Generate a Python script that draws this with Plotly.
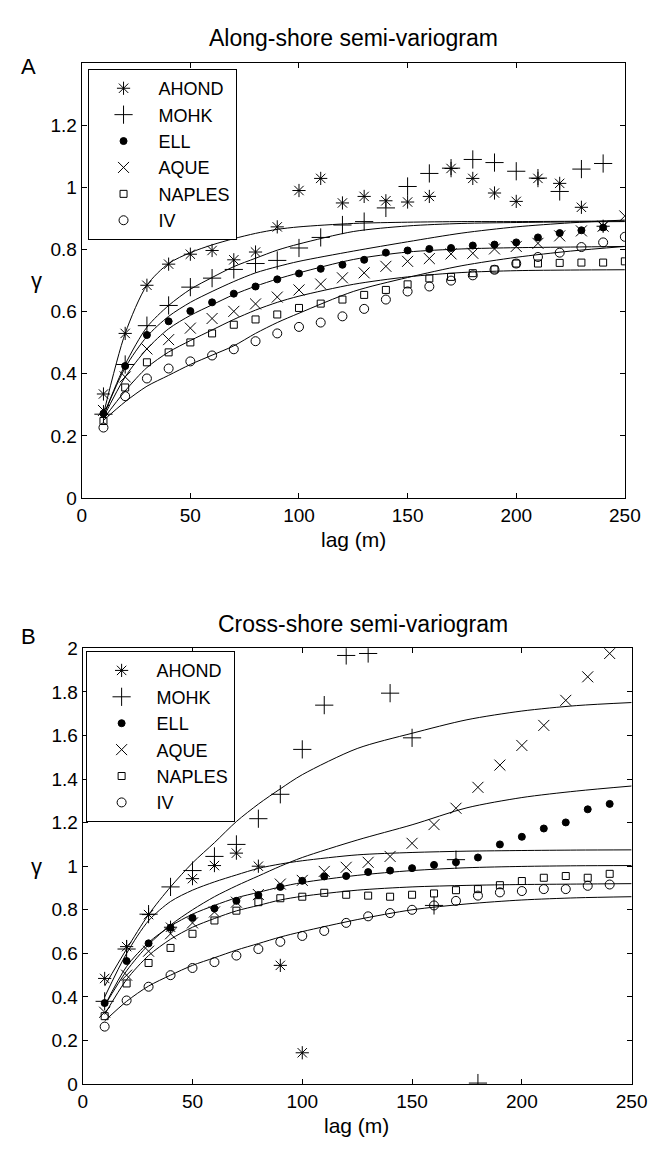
import plotly.graph_objects as go

# ---------------- DATA ----------------
LAGS = [10, 20, 30, 40, 50, 60, 70, 80, 90, 100, 110, 120, 130, 140, 150,
        160, 170, 180, 190, 200, 210, 220, 230, 240, 250]
SERIES = ["AHOND", "MOHK", "ELL", "AQUE", "NAPLES", "IV"]

# Panel A: along-shore experimental semi-variogram
A_AHOND = [0.335, 0.53, 0.685, 0.753, 0.785, 0.797, 0.767, 0.792, 0.873, 0.99, 1.029, 0.95,
           0.971, 0.957, 0.953, 0.971, 1.061, 1.029, 0.982, 0.955, 1.029, 1.013, 0.936, 0.875]
A_MOHK = [0.27, 0.43, 0.555, 0.62, 0.679, 0.708, 0.736, 0.755, 0.765, 0.805, 0.839, 0.879,
          0.89, 0.934, 1.003, 1.045, 1.062, 1.09, 1.08, 1.052, 1.03, 0.987, 1.059, 1.077]
A_ELL = [0.272, 0.425, 0.525, 0.569, 0.602, 0.63, 0.658, 0.681, 0.704, 0.723, 0.738, 0.751,
         0.767, 0.79, 0.797, 0.802, 0.805, 0.813, 0.816, 0.823, 0.839, 0.853, 0.862, 0.871]
A_AQUE = [0.282, 0.39, 0.48, 0.51, 0.547, 0.578, 0.601, 0.625, 0.647, 0.67, 0.689, 0.709,
          0.725, 0.746, 0.762, 0.771, 0.786, 0.788, 0.802, 0.81, 0.82, 0.844, 0.86, 0.875, 0.908]
A_NAPLES = [0.248, 0.356, 0.437, 0.469, 0.501, 0.53, 0.558, 0.575, 0.591, 0.612, 0.626, 0.639,
            0.654, 0.67, 0.688, 0.707, 0.712, 0.724, 0.736, 0.755, 0.755, 0.757, 0.758, 0.758, 0.762]
A_IV = [0.227, 0.328, 0.385, 0.417, 0.44, 0.459, 0.479, 0.505, 0.53, 0.551, 0.565, 0.585,
        0.609, 0.639, 0.665, 0.681, 0.70, 0.717, 0.735, 0.755, 0.776, 0.79, 0.808, 0.823, 0.841]

# Panel B: cross-shore experimental semi-variogram
B_AHOND = [0.485, 0.631, 0.778, 0.72, 0.943, 1.003, 1.06, 1.0, 0.545, 0.144]
B_MOHK = [0.38, 0.62, 0.78, 0.905, 0.98, 1.045, 1.10, 1.218, 1.33, 1.536, 1.739, 1.967,
          1.976, 1.794, 1.589, 0.82, 1.03, 0.005]
B_ELL = [0.372, 0.565, 0.646, 0.718, 0.763, 0.806, 0.841, 0.868, 0.905, 0.933, 0.953, 0.955,
         0.973, 0.98, 0.991, 1.006, 1.018, 1.04, 1.10, 1.135, 1.173, 1.201, 1.261, 1.286]
B_AQUE = [0.33, 0.50, 0.61, 0.69, 0.74, 0.79, 0.835, 0.87, 0.918, 0.935, 0.976, 0.995,
          1.018, 1.045, 1.105, 1.191, 1.266, 1.362, 1.464, 1.554, 1.646, 1.761, 1.869, 1.976]
B_NAPLES = [0.312, 0.462, 0.556, 0.625, 0.69, 0.751, 0.796, 0.835, 0.853, 0.86, 0.878, 0.869,
            0.865, 0.86, 0.869, 0.875, 0.89, 0.895, 0.913, 0.932, 0.947, 0.955, 0.947, 0.965]
B_IV = [0.264, 0.384, 0.447, 0.50, 0.533, 0.56, 0.59, 0.62, 0.653, 0.68, 0.703, 0.74,
        0.77, 0.785, 0.80, 0.82, 0.841, 0.865, 0.88, 0.886, 0.895, 0.895, 0.91, 0.916]

# Fitted model curves (at these lags)
FIT_LAGS = [10, 20, 30, 40, 50, 60, 70, 80, 90, 100, 125, 150, 175, 200, 225, 250]
FIT_A = [
    [0.27, 0.53, 0.685, 0.755, 0.79, 0.815, 0.835, 0.852, 0.865, 0.873, 0.884, 0.888, 0.89, 0.89, 0.891, 0.892],
    [0.265, 0.43, 0.55, 0.62, 0.672, 0.71, 0.745, 0.772, 0.798, 0.818, 0.858, 0.876, 0.884, 0.887, 0.889, 0.89],
    [0.265, 0.42, 0.52, 0.585, 0.63, 0.665, 0.697, 0.725, 0.745, 0.762, 0.795, 0.825, 0.853, 0.873, 0.886, 0.895],
    [0.26, 0.39, 0.48, 0.545, 0.588, 0.622, 0.655, 0.682, 0.705, 0.725, 0.768, 0.792, 0.802, 0.806, 0.808, 0.81],
    [0.255, 0.345, 0.42, 0.47, 0.507, 0.541, 0.575, 0.605, 0.63, 0.65, 0.688, 0.712, 0.726, 0.732, 0.734, 0.735],
    [0.25, 0.31, 0.36, 0.395, 0.43, 0.46, 0.49, 0.53, 0.565, 0.595, 0.665, 0.71, 0.748, 0.775, 0.795, 0.81],
]
FIT_B = [
    [0.45, 0.62, 0.778, 0.905, 1.015, 1.108, 1.205, 1.285, 1.355, 1.42, 1.54, 1.61, 1.672, 1.712, 1.737, 1.751],
    [0.40, 0.60, 0.75, 0.838, 0.89, 0.928, 0.96, 0.99, 1.01, 1.025, 1.052, 1.063, 1.069, 1.072, 1.074, 1.075],
    [0.36, 0.52, 0.64, 0.73, 0.80, 0.86, 0.91, 0.955, 1.0, 1.04, 1.12, 1.19, 1.268, 1.315, 1.345, 1.368],
    [0.36, 0.54, 0.65, 0.725, 0.78, 0.82, 0.855, 0.88, 0.905, 0.925, 0.958, 0.98, 0.993, 0.999, 1.002, 1.003],
    [0.32, 0.48, 0.59, 0.665, 0.72, 0.76, 0.795, 0.82, 0.845, 0.862, 0.89, 0.905, 0.912, 0.916, 0.918, 0.92],
    [0.29, 0.38, 0.45, 0.50, 0.545, 0.58, 0.615, 0.645, 0.675, 0.70, 0.755, 0.80, 0.827, 0.845, 0.855, 0.86],
]

X_TICKS = [0, 50, 100, 150, 200, 250]
YA_TICKS = [0, 0.2, 0.4, 0.6, 0.8, 1, 1.2]
YA_TEXT = ["0", "0.2", "0.4", "0.6", "0.8", "1", "1.2"]
YB_TICKS = [0, 0.2, 0.4, 0.6, 0.8, 1, 1.2, 1.4, 1.6, 1.8, 2]
YB_TEXT = ["0", "0.2", "0.4", "0.6", "0.8", "1", "1.2", "1.4", "1.6", "1.8", "2"]

# ---------------- STYLE ----------------
FONT = "Liberation Sans, Arial, Helvetica, sans-serif"
SYMBOLS = {
    "AHOND": dict(symbol="asterisk-open", size=11),
    "MOHK": dict(symbol="cross-thin-open", size=13),
    "ELL": dict(symbol="circle", size=7),
    "AQUE": dict(symbol="x-thin-open", size=11),
    "NAPLES": dict(symbol="square-open", size=7),
    "IV": dict(symbol="circle-open", size=9),
}

fig = go.Figure()

panels = [
    ("x", "y", "legend", [A_AHOND, A_MOHK, A_ELL, A_AQUE, A_NAPLES, A_IV], FIT_A),
    ("x2", "y2", "legend2", [B_AHOND, B_MOHK, B_ELL, B_AQUE, B_NAPLES, B_IV], FIT_B),
]

for xa, ya, leg, data, fits in panels:
    for fit in fits:
        fig.add_trace(go.Scatter(
            x=FIT_LAGS, y=fit, mode="lines", xaxis=xa, yaxis=ya,
            line=dict(color="black", width=1, shape="spline", smoothing=0.8),
            showlegend=False, hoverinfo="skip"))
    for name, vals in zip(SERIES, data):
        s = SYMBOLS[name]
        fig.add_trace(go.Scatter(
            x=LAGS[:len(vals)], y=vals, mode="markers", name=name,
            xaxis=xa, yaxis=ya, legend=leg,
            marker=dict(symbol=s["symbol"], size=s["size"], color="black",
                        line=dict(color="black", width=1))))

axis_common = dict(showline=True, linecolor="black", linewidth=1, mirror="ticks",
                   ticks="inside", ticklen=5, tickcolor="black", showgrid=False,
                   zeroline=False, tickfont=dict(family=FONT, size=19, color="black"))

W, H = 659, 1149


def px_x(v):
    return v / W


def px_y(v):
    return 1 - v / H


legend_common = dict(xanchor="left", yanchor="top", bordercolor="black", borderwidth=1,
                     bgcolor="white", itemwidth=60, tracegroupgap=0,
                     font=dict(family=FONT, size=18, color="black"))

fig.update_layout(
    width=W, height=H, margin=dict(l=0, r=0, t=0, b=0),
    paper_bgcolor="white", plot_bgcolor="white",
    font=dict(family=FONT, color="black"),
    xaxis=dict(domain=[px_x(71), px_x(632)], range=[0, 250], tickvals=X_TICKS, anchor="y", **axis_common),
    yaxis=dict(domain=[px_y(489), px_y(46)], range=[0, 1.4], tickvals=YA_TICKS, ticktext=YA_TEXT,
               anchor="x", **axis_common),
    xaxis2=dict(domain=[px_x(72), px_x(639)], range=[0, 250], tickvals=X_TICKS, anchor="y2", **axis_common),
    yaxis2=dict(domain=[px_y(1086), px_y(642)], range=[0, 2], tickvals=YB_TICKS, ticktext=YB_TEXT,
                anchor="x2", **axis_common),
    legend=dict(x=px_x(77), y=px_y(52), **legend_common),
    legend2=dict(x=px_x(75), y=px_y(645), **legend_common),
)

ann = [
    ("Along-shore semi-variogram", 352, 20, 23),
    ("Cross-shore semi-variogram", 362, 617, 23),
    ("A", 16, 49, 22),
    ("B", 16, 630, 22),
    ("lag (m)", 352, 531, 21),
    ("lag (m)", 355, 1128, 21),
    ("γ", 24, 267, 22),
    ("γ", 24, 864, 22),
]
for text, x, y, size in ann:
    fig.add_annotation(text=text, x=px_x(x), y=px_y(y), xref="paper", yref="paper",
                       xanchor="center", yanchor="middle", showarrow=False,
                       font=dict(family=FONT, size=size, color="black"))

fig.write_html("out.html")
